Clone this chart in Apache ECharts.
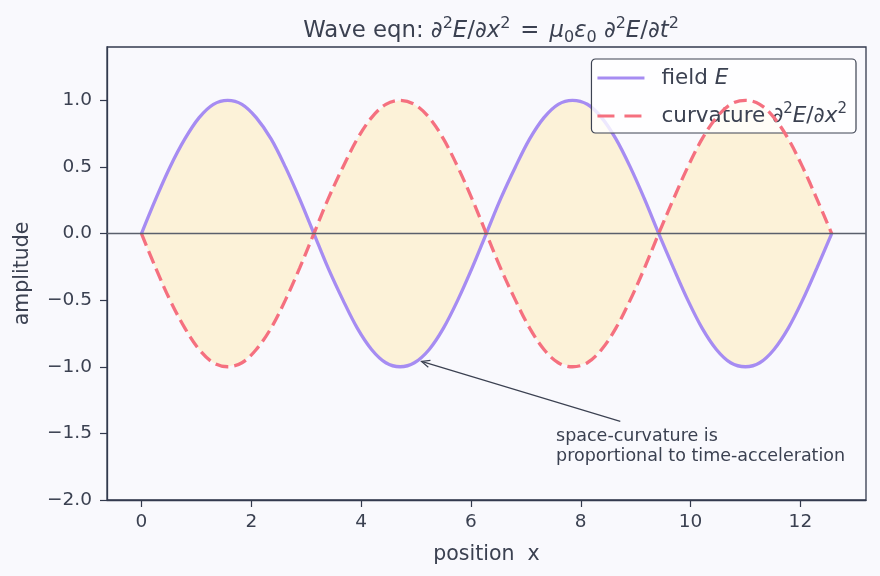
<!DOCTYPE html>
<html>
<head>
<meta charset="utf-8">
<script src="https://cdn.jsdelivr.net/npm/echarts@6/dist/echarts.min.js"></script>
<style>
html,body{margin:0;padding:0;background:#f9f9fd;}
#main{width:880px;height:576px;}
</style>
</head>
<body>
<div id="main"></div>
<script>
// ---- data ----
var xs = [0, 0.26, 0.52, 0.79, 1.05, 1.31, 1.57, 1.83, 2.09, 2.36, 2.62, 2.88, 3.14,
  3.40, 3.67, 3.93, 4.19, 4.45, 4.71, 4.97, 5.24, 5.50, 5.76, 6.02, 6.28,
  6.54, 6.81, 7.07, 7.33, 7.59, 7.85, 8.12, 8.38, 8.64, 8.90, 9.16, 9.42,
  9.69, 9.95, 10.21, 10.47, 10.73, 11.00, 11.26, 11.52, 11.78, 12.04, 12.30, 12.57];
var fieldE = [0, 0.26, 0.5, 0.71, 0.87, 0.97, 1.0, 0.97, 0.87, 0.71, 0.5, 0.26, 0,
  -0.26, -0.5, -0.71, -0.87, -0.97, -1.0, -0.97, -0.87, -0.71, -0.5, -0.26, 0,
  0.26, 0.5, 0.71, 0.87, 0.97, 1.0, 0.97, 0.87, 0.71, 0.5, 0.26, 0,
  -0.26, -0.5, -0.71, -0.87, -0.97, -1.0, -0.97, -0.87, -0.71, -0.5, -0.26, 0];
var curvature = [0, -0.26, -0.5, -0.71, -0.87, -0.97, -1.0, -0.97, -0.87, -0.71, -0.5, -0.26, 0,
  0.26, 0.5, 0.71, 0.87, 0.97, 1.0, 0.97, 0.87, 0.71, 0.5, 0.26, 0,
  -0.26, -0.5, -0.71, -0.87, -0.97, -1.0, -0.97, -0.87, -0.71, -0.5, -0.26, 0,
  0.26, 0.5, 0.71, 0.87, 0.97, 1.0, 0.97, 0.87, 0.71, 0.5, 0.26, 0];
var xTicks = [0, 2, 4, 6, 8, 10, 12];
var yTicks = [-2.0, -1.5, -1.0, -0.5, 0.0, 0.5, 1.0];
var annotPoint = [5.1, -0.96];
var annotTail = [8.72, -1.41];
var annotTextPos = [7.55, -1.45];
var annotText = 'space-curvature is\nproportional to time-acceleration';

// ---- chart ----
var FONT = 'DejaVu Sans';
var TXT = '#3b4151';
var SPINE = '#333a4e';
var chart = echarts.init(document.getElementById('main'));

var eData = xs.map(function (x, i) { return [x, fieldE[i]]; });
var cData = xs.map(function (x, i) { return [x, curvature[i]]; });

function fmtY(v) {
  return v < 0 ? '\u2212' + Math.abs(v).toFixed(1) : v.toFixed(1);
}

function mathRich(fs, gapW) {
  var lh = Math.round(fs * 1.3);
  var sfs = Math.round(fs * 0.7);
  return {
    n: { fontFamily: FONT, fontSize: fs, fontWeight: 'normal', color: TXT, lineHeight: lh },
    i: { fontFamily: FONT, fontSize: fs, fontWeight: 'normal', fontStyle: 'italic', color: TXT, lineHeight: lh },
    sup: { fontFamily: FONT, fontSize: sfs, fontWeight: 'normal', color: TXT, lineHeight: sfs, verticalAlign: 'top' },
    sub: { fontFamily: FONT, fontSize: sfs, fontWeight: 'normal', color: TXT, lineHeight: sfs, verticalAlign: 'bottom' },
    gap: { width: gapW || 0, lineHeight: lh },
    sp: { width: Math.round(fs * 0.45), lineHeight: lh }
  };
}

// legend icons drawn as filled paths (solid bar and dashed bar)
var solidIcon = 'path://M0,0 L47,0 L47,3 L0,3 Z';
var dashIcon = 'path://M0,0 L17,0 L17,3 L0,3 Z M27,0 L44,0 L44,3 L27,3 Z M47,0 L47,3 Z';

chart.setOption({
  backgroundColor: '#f9f9fd',
  animation: false,
  textStyle: { fontFamily: FONT },
  title: {
    text: '{n|Wave eqn: \u2202}{sup|2}{i|E}{n|/\u2202}{i|x}{sup|2}{sp|}{n|=}{sp|}{i|\u03bc}{sub|0}{i|\u03b5}{sub|0}{n| \u2202}{sup|2}{i|E}{n|/\u2202}{i|t}{sup|2}',
    left: 486,
    top: 11,
    textAlign: 'center',
    textStyle: { fontWeight: 'normal', rich: mathRich(22.8) }
  },
  legend: {
    right: 24,
    top: 59,
    orient: 'vertical',
    itemWidth: 47,
    itemHeight: 3.5,
    itemGap: 13,
    padding: [8, 9, 6, 6],
    backgroundColor: 'rgba(255,255,255,0.8)',
    borderColor: '#3d4352',
    borderWidth: 1.2,
    borderRadius: 4,
    data: [
      { name: 'field E', icon: solidIcon },
      { name: 'curvature', icon: dashIcon }
    ],
    formatter: function (name) {
      if (name === 'field E') return '{gap|}{n|field }{i|E}';
      return '{gap|}{n|curvature \u2202}{sup|2}{i|E}{n|/\u2202}{i|x}{sup|2}';
    },
    textStyle: { rich: mathRich(21.5, 12) }
  },
  grid: {
    left: 107, right: 14, top: 47, bottom: 76,
    show: true, borderColor: SPINE, borderWidth: 1.3,
    backgroundColor: '#f9f9fd'
  },
  xAxis: {
    type: 'value',
    min: -0.628, max: 13.195,
    name: 'position  x',
    nameLocation: 'middle',
    nameGap: 44,
    nameTextStyle: { fontFamily: FONT, fontSize: 20.5, color: TXT },
    axisLine: { show: true, onZero: false, lineStyle: { color: SPINE, width: 1.3 } },
    splitLine: { show: false },
    axisTick: { show: true, customValues: xTicks, length: 7, lineStyle: { color: SPINE, width: 1.2 } },
    axisLabel: { customValues: xTicks, fontFamily: FONT, fontSize: 18.5, color: TXT, margin: 13 }
  },
  yAxis: {
    type: 'value',
    min: -2.0, max: 1.4,
    name: 'amplitude',
    nameLocation: 'middle',
    nameGap: 74,
    nameTextStyle: { fontFamily: FONT, fontSize: 20.5, color: TXT },
    axisLine: { show: true, onZero: false, lineStyle: { color: SPINE, width: 1.3 } },
    splitLine: { show: false },
    axisTick: { show: true, customValues: yTicks, length: 7, lineStyle: { color: SPINE, width: 1.2 } },
    axisLabel: { customValues: yTicks, fontFamily: FONT, fontSize: 18.5, color: TXT, margin: 15, formatter: fmtY }
  },
  series: [
    {
      type: 'custom',
      name: 'fill',
      z: 1,
      silent: true,
      clip: true,
      data: [0],
      renderItem: function (params, api) {
        var pts = [];
        for (var i = 0; i < xs.length; i++) pts.push(api.coord([xs[i], fieldE[i]]));
        for (var j = xs.length - 1; j >= 0; j--) pts.push(api.coord([xs[j], curvature[j]]));
        return {
          type: 'polygon',
          shape: { points: pts, smooth: 0 },
          style: { fill: 'rgba(253,240,200,0.7)', stroke: null }
        };
      }
    },
    {
      type: 'line',
      name: 'zero',
      z: 2,
      data: [],
      markLine: {
        silent: true,
        symbol: ['none', 'none'],
        label: { show: false },
        lineStyle: { color: '#5a606c', width: 1.3, type: 'solid' },
        data: [{ yAxis: 0 }]
      }
    },
    {
      type: 'line',
      name: 'field E',
      z: 3,
      data: eData,
      smooth: 0.35,
      showSymbol: false,
      symbol: 'none',
      color: '#a68cf2',
      lineStyle: { color: '#a68cf2', width: 3.3 }
    },
    {
      type: 'line',
      name: 'curvature',
      z: 4,
      data: cData,
      smooth: 0.35,
      showSymbol: false,
      symbol: 'none',
      color: '#f5707f',
      lineStyle: { color: '#f5707f', width: 3.3, type: [13, 6] }
    },
    {
      type: 'custom',
      name: 'annotation',
      z: 5,
      silent: true,
      clip: false,
      data: [0],
      renderItem: function (params, api) {
        var p1 = api.coord(annotTail);
        var p2 = api.coord(annotPoint);
        var ang = Math.atan2(p2[1] - p1[1], p2[0] - p1[0]);
        var hl = 9, ha = 0.42;
        var h1 = [p2[0] - hl * Math.cos(ang - ha), p2[1] - hl * Math.sin(ang - ha)];
        var h2 = [p2[0] - hl * Math.cos(ang + ha), p2[1] - hl * Math.sin(ang + ha)];
        var tp = api.coord(annotTextPos);
        return {
          type: 'group',
          children: [
            { type: 'line', shape: { x1: p1[0], y1: p1[1], x2: p2[0], y2: p2[1] },
              style: { stroke: '#3b4151', lineWidth: 1.2 } },
            { type: 'polyline', shape: { points: [h1, p2, h2] },
              style: { stroke: '#3b4151', lineWidth: 1.2, fill: null } },
            { type: 'text', x: tp[0], y: tp[1],
              style: { text: annotText, fontFamily: FONT, fontSize: 17.5, fill: '#3b4151',
                       lineHeight: 20, align: 'left', verticalAlign: 'top' } }
          ]
        };
      }
    }
  ]
});
</script>
</body>
</html>
